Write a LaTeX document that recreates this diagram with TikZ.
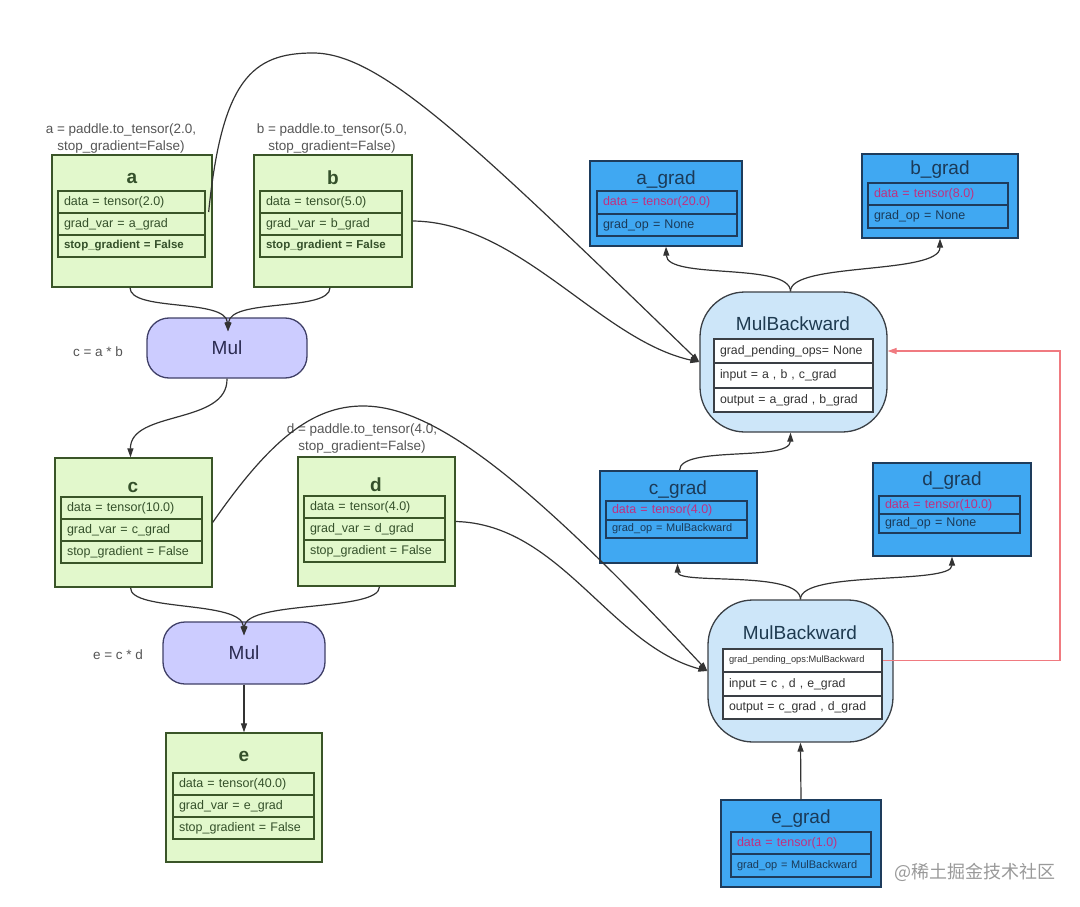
\documentclass[tikz,border=0pt]{standalone}
\usepackage{fontspec}
\setmainfont{Liberation Sans}
\newfontfamily\cjkfont{Noto Sans CJK SC}
\usetikzlibrary{arrows.meta,calc}
\definecolor{gfill}{HTML}{E2F8CC}
\definecolor{gborder}{HTML}{3A5528}
\definecolor{gtext}{HTML}{34502A}
\definecolor{bfill}{HTML}{40A8F2}
\definecolor{bborder}{HTML}{1E3C5C}
\definecolor{btext}{HTML}{1B3A58}
\definecolor{bdata}{HTML}{C03080}
\definecolor{mbfill}{HTML}{CDE6F9}
\definecolor{mbborder}{HTML}{3A3F45}
\definecolor{mbtext}{HTML}{1E3A50}
\definecolor{mulfill}{HTML}{CCCCFF}
\definecolor{mulborder}{HTML}{404068}
\definecolor{multext}{HTML}{2A2A50}
\definecolor{lblc}{HTML}{555555}
\definecolor{conn}{HTML}{333333}
\definecolor{redl}{HTML}{F07A80}
\begin{document}
\begin{tikzpicture}[x=1pt,y=-1pt,
  gbox/.style={draw=gborder,fill=gfill,line width=1.3pt,inner sep=0pt},
  bbox/.style={draw=bborder,fill=bfill,line width=1.3pt,inner sep=0pt},
  mbbox/.style={draw=mbborder,fill=mbfill,line width=1.3pt,inner sep=0pt,rounded corners=45pt},
  mulbox/.style={draw=mulborder,fill=mulfill,line width=1.3pt,inner sep=0pt,rounded corners=22pt,
     text=multext,font=\fontsize{19}{22}\selectfont},
  gtitle/.style={text=gtext,font=\bfseries\fontsize{19}{22}\selectfont,inner sep=0pt},
  btitle/.style={text=btext,font=\fontsize{19}{22}\selectfont,inner sep=0pt},
  mbtitle/.style={text=mbtext,font=\fontsize{19}{22}\selectfont,inner sep=0pt},
  rowbase/.style={line width=1.5pt,inner xsep=6pt,inner ysep=0pt,align=left},
  greenrow/.style={rowbase,draw=gborder,text=gtext,font=\fontsize{12.5}{14}\selectfont},
  greenrowbold/.style={rowbase,draw=gborder,text=gtext,font=\bfseries\fontsize{11.5}{13}\selectfont},
  bluedatarow/.style={rowbase,draw=bborder,text=bdata,font=\fontsize{12.5}{14}\selectfont},
  bluerow/.style={rowbase,draw=bborder,text=btext,font=\fontsize{12.5}{14}\selectfont},
  bluesmallrow/.style={rowbase,draw=bborder,text=btext,font=\fontsize{11}{13}\selectfont},
  mbrow/.style={rowbase,draw=mbborder,fill=white,text=black!80,font=\fontsize{12.3}{14}\selectfont},
  mbsmallrow/.style={rowbase,draw=mbborder,fill=white,text=black!80,font=\fontsize{9.3}{11}\selectfont},
  lbl/.style={text=lblc,font=\fontsize{13.5}{17}\selectfont,align=center,inner sep=0pt},
  conn/.style={draw=conn,line width=1.2pt,-{Triangle[length=9pt,width=6pt]}},
]
\useasboundingbox (0,0) rectangle (1080,907);

% ---------- green boxes ----------
\node[lbl] (alab) at (121,138.5) {a = paddle.to\_tensor(2.0,\\stop\_gradient=False)};
\node[gbox,minimum width=160pt,minimum height=132pt] (a) at (132,221) {};
\node[gtitle] (at) at (132,178) {a};
\node[greenrow,text width=135pt,minimum height=22pt] (a1) at (131.5,202) {data = tensor(2.0)};
\node[greenrow,text width=135pt,minimum height=22pt] (a2) at (131.5,224) {grad\_var = a\_grad};
\node[greenrowbold,text width=135pt,minimum height=22pt] (a3) at (131.5,246) {stop\_gradient = False};

\node[lbl] (blab) at (332,138.5) {b = paddle.to\_tensor(5.0,\\stop\_gradient=False)};
\node[gbox,minimum width=158pt,minimum height=132pt] (b) at (333,221) {};
\node[gtitle] (bt) at (333,178) {b};
\node[greenrow,text width=130pt,minimum height=22pt] (b1) at (331,202) {data = tensor(5.0)};
\node[greenrow,text width=130pt,minimum height=22pt] (b2) at (331,224) {grad\_var = b\_grad};
\node[greenrowbold,text width=130pt,minimum height=22pt] (b3) at (331,246) {stop\_gradient = False};

\node[mulbox,minimum width=160pt,minimum height=60pt] (mul1) at (227,348) {Mul};
\node[lbl] (mul1lab) at (98,352) {c = a * b};

\node[gbox,minimum width=157pt,minimum height=129pt] (c) at (133.5,522.5) {};
\node[gtitle] (ct) at (133,487) {c};
\node[greenrow,text width=129pt,minimum height=22pt] (c1) at (131.5,508) {data = tensor(10.0)};
\node[greenrow,text width=129pt,minimum height=22pt] (c2) at (131.5,530) {grad\_var = c\_grad};
\node[greenrow,text width=129pt,minimum height=22pt] (c3) at (131.5,552) {stop\_gradient = False};

\node[lbl] (dlab) at (362,439) {d = paddle.to\_tensor(4.0,\\stop\_gradient=False)};
\node[gbox,minimum width=157pt,minimum height=129pt] (d) at (376.5,521.5) {};
\node[gtitle] (dt) at (376,485) {d};
\node[greenrow,text width=129pt,minimum height=22pt] (d1) at (374.5,507) {data = tensor(4.0)};
\node[greenrow,text width=129pt,minimum height=22pt] (d2) at (374.5,529) {grad\_var = d\_grad};
\node[greenrow,text width=129pt,minimum height=22pt] (d3) at (374.5,551) {stop\_gradient = False};

\node[mulbox,minimum width=162pt,minimum height=62pt] (mul2) at (244,653) {Mul};
\node[lbl] (mul2lab) at (118,655) {e = c * d};

\node[gbox,minimum width=156pt,minimum height=129pt] (e) at (244,797.5) {};
\node[gtitle] (et) at (244,756) {e};
\node[greenrow,text width=129pt,minimum height=22pt] (e1) at (243.5,784) {data = tensor(40.0)};
\node[greenrow,text width=129pt,minimum height=22pt] (e2) at (243.5,806) {grad\_var = e\_grad};
\node[greenrow,text width=129pt,minimum height=22pt] (e3) at (243.5,828) {stop\_gradient = False};

% ---------- blue boxes ----------
\node[bbox,minimum width=152pt,minimum height=85pt] (ag) at (666,203.5) {};
\node[btitle] (agt) at (666,180) {a\_grad};
\node[bluedatarow,text width=128pt,minimum height=23pt] (ag1) at (667,202.5) {data = tensor(20.0)};
\node[bluerow,text width=128pt,minimum height=22pt] (ag2) at (667,225) {grad\_op = None};

\node[bbox,minimum width=156pt,minimum height=84pt] (bg) at (940,196) {};
\node[btitle] (bgt) at (940,170) {b\_grad};
\node[bluedatarow,text width=128pt,minimum height=22pt] (bg1) at (938,194) {data = tensor(8.0)};
\node[bluerow,text width=128pt,minimum height=23pt] (bg2) at (938,216.5) {grad\_op = None};

\node[bbox,minimum width=157pt,minimum height=92pt] (cg) at (678.5,517) {};
\node[btitle] (cgt) at (678,490) {c\_grad};
\node[bluedatarow,text width=129pt,minimum height=19pt] (cg1) at (676.5,510.5) {data = tensor(4.0)};
\node[bluesmallrow,text width=129pt,minimum height=18pt] (cg2) at (676.5,529) {grad\_op = MulBackward};

\node[bbox,minimum width=158pt,minimum height=93pt] (dg) at (952,509.5) {};
\node[btitle] (dgt) at (952,481) {d\_grad};
\node[bluedatarow,text width=129pt,minimum height=18pt] (dg1) at (949.5,505) {data = tensor(10.0)};
\node[bluerow,text width=129pt,minimum height=19pt] (dg2) at (949.5,523.5) {grad\_op = None};

\node[bbox,minimum width=160pt,minimum height=87pt] (eg) at (801,843.5) {};
\node[btitle] (egt) at (801,819) {e\_grad};
\node[bluedatarow,text width=128pt,minimum height=22pt] (eg1) at (801,843) {data = tensor(1.0)};
\node[bluesmallrow,text width=128pt,minimum height=23pt] (eg2) at (801,865.5) {grad\_op = MulBackward};

% ---------- MulBackward nodes ----------
\node[mbbox,minimum width=187pt,minimum height=140pt] (mb1) at (793.5,362) {};
\node[mbtitle] (mb1t) at (793,324) {MulBackward};
\node[mbrow,text width=147pt,minimum height=24pt] (mb1r1) at (793.5,351) {grad\_pending\_ops= None};
\node[mbrow,text width=147pt,minimum height=25pt] (mb1r2) at (793.5,375.5) {input = a , b , c\_grad};
\node[mbrow,text width=147pt,minimum height=24pt] (mb1r3) at (793.5,400) {output = a\_grad , b\_grad};

\node[mbbox,minimum width=185pt,minimum height=142pt] (mb2) at (800.5,671) {};
\node[mbtitle] (mb2t) at (800,633) {MulBackward};
\node[mbsmallrow,text width=147pt,minimum height=23pt] (mb2r1) at (802.5,660.5) {grad\_pending\_ops:MulBackward};
\node[mbrow,text width=147pt,minimum height=24pt] (mb2r2) at (802.5,684) {input = c , d , e\_grad};
\node[mbrow,text width=147pt,minimum height=23pt] (mb2r3) at (802.5,707.5) {output = c\_grad , d\_grad};

% ---------- connectors ----------
\coordinate (apeak) at (313,53);
\draw[conn] ($(a.east)+(-4,-9)$) .. controls (222,80) and (252,53) .. (apeak)
   .. controls (380,53) and (470,140) .. (mb1.west);
\draw[conn] (b.east) .. controls (520,222) and (600,340) .. (mb1.west);

\draw[conn] ($(a.south)+(-2,0)$) .. controls (130,312) and (226,298) .. ($(mul1.north)+(1,14)$);
\draw[conn] ($(b.south)+(-3,0)$) .. controls (330,312) and (230,298) .. ($(mul1.north)+(1,14)$);
\draw[conn] (mul1.south) .. controls (228,425) and (130,410) .. ($(c.north)+(-3,0)$);

\coordinate (cpeak) at (363,406);
\draw[conn] (c.east) .. controls (270,440) and (312,406) .. (cpeak)
   .. controls (430,406) and (520,470) .. (mb2.west);
\draw[conn] (d.east) .. controls (560,524) and (610,645) .. (mb2.west);

\draw[conn] ($(c.south)+(-3,0)$) .. controls (130,612) and (242,600) .. ($(mul2.north)+(0,14)$);
\draw[conn] ($(d.south)+(3,0)$) .. controls (380,612) and (246,600) .. ($(mul2.north)+(0,14)$);
\draw[conn] (mul2.south) -- (e.north);

\draw[conn] ($(mb1.north)+(-3,0)$) .. controls (790,262) and (667,280) .. (ag.south);
\draw[conn] ($(mb1.north)+(-3,0)$) .. controls (790,262) and (940,275) .. (bg.south);
\draw[conn] ($(cg.north)+(1,0)$) .. controls (680,445) and (790,462) .. ($(mb1.south)+(-3,0)$);

\draw[conn] (mb2.north) .. controls (800,570) and (678,585) .. ($(cg.south)+(-1,0)$);
\draw[conn] (mb2.north) .. controls (800,570) and (952,585) .. (dg.south);
\draw[conn] (eg.north) -- (mb2.south);

\coordinate (rc) at (1060,0);
\draw[draw=redl,line width=1.2pt,-{Triangle[length=9pt,width=6pt]}]
   (mb2r1.east) -- (mb2r1.east -| rc) -- (rc |- mb1r1.east) -- (mb1.east |- mb1r1.east);

% ---------- watermark ----------
\node[text=black!40,font=\cjkfont\fontsize{18}{20}\selectfont,inner sep=0pt] (wm) at (975,872) {@稀土掘金技术社区};
\end{tikzpicture}
\end{document}
